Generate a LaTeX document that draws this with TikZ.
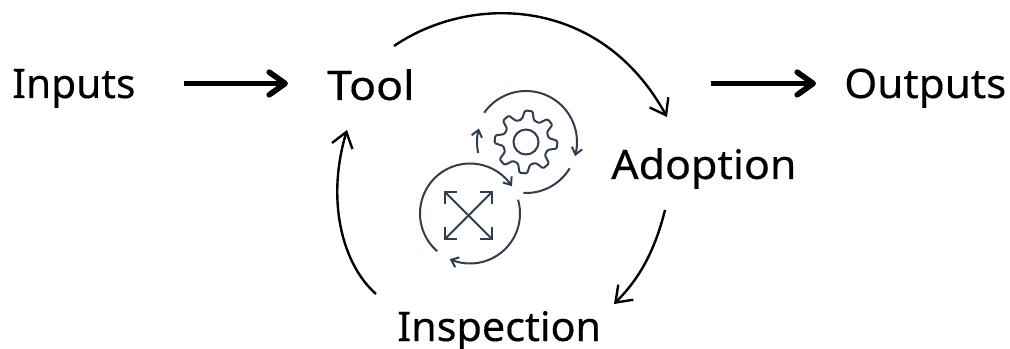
\documentclass[tikz,border=0pt]{standalone}
\usepackage{fontspec}
\setmainfont[FakeBold=0.3]{Noto Sans}
\usetikzlibrary{arrows.meta}
\definecolor{iconc}{HTML}{2F3E4E}
\tikzset{
  lbl/.style={inner sep=0pt,anchor=base west,text height=30pt,text depth=0pt,font=\fontsize{30.5}{36}\selectfont,text=black,transform shape},
  bigarrow/.style={draw=black,line width=4.4pt,-{Straight Barb[length=12pt,width=17pt,line width=4.2pt,round]}},
  cyc/.style={draw=black,line width=1.8pt,-{Straight Barb[length=11pt,width=16pt,line width=1.8pt]}},
  ico/.style={draw=iconc,line width=1.5pt},
  icoa/.style={ico,-{Straight Barb[length=5pt,width=8pt,line width=1.5pt]}}
}
\begin{document}
\begin{tikzpicture}[x=0.75pt,y=-0.75pt]
\useasboundingbox (0,0) rectangle (1010,349);
\node[lbl] (inputs) at (12,98) {Inputs};
\node[lbl,xscale=1.1] (tool) at (327,100) {Tool};
\node[lbl,xscale=1.055] (adoption) at (611,179) {Adoption};
\node[lbl,xscale=1.04] (outputs) at (844,98) {Outputs};
\node[lbl,xscale=1.015] (inspection) at (397,341) {Inspection};
\coordinate (t1) at (394,46);
\coordinate (a1) at (667,117);
\coordinate (a2) at (665,210);
\coordinate (i1) at (614,304);
\coordinate (i2) at (376,294);
\coordinate (t2) at (347,130);
\coordinate (s1) at (184,83.5);
\coordinate (s2) at (288,83.5);
\coordinate (s3) at (711,83.5);
\coordinate (s4) at (816,83.5);
\draw[bigarrow] (s1) -- (s2);
\draw[bigarrow] (s3) -- (s4);
\draw[cyc] (t1) .. controls (470,-6) and (600,-5) .. (a1);
\draw[cyc] (a2) .. controls (655,250) and (640,278) .. (i1);
\draw[cyc] (i2) .. controls (342,264) and (326,200) .. (t2);
% gear
\coordinate (gc) at (526,142);
\coordinate (lc) at (470,213.5);
\draw[ico,line join=round,rounded corners=1pt]
  ({526+23*cos(-100)},{142+23*sin(-100)})
  \foreach \a in {-85,-40,5,50,95,140,185,230}{
    -- ({526+31.5*cos(\a-7)},{142+31.5*sin(\a-7)})
    -- ({526+31.5*cos(\a+7)},{142+31.5*sin(\a+7)})
    -- ({526+23*cos(\a+15)},{142+23*sin(\a+15)})
    -- ({526+23*cos(\a+30)},{142+23*sin(\a+30)})
  } -- cycle;
\draw[ico] (gc) circle[radius=12.5*0.75pt];
\draw[icoa,domain=-145:16,samples=50] plot ({526+51*cos(\x)},{142+51*sin(\x)});
\draw[ico,domain=31:93,samples=25] plot ({526+51*cos(\x)},{142+51*sin(\x)});
\draw[icoa,domain=167:196,samples=12] plot ({526+49*cos(\x)},{142+49*sin(\x)});
\draw[icoa,domain=131:327,samples=60] plot ({470+50*cos(\x)},{213.5+50*sin(\x)});
\draw[icoa,domain=-16:114,samples=40] plot ({470+50*cos(\x)},{213.5+50*sin(\x)});
% expand arrows
\draw[ico] (445,192) -- (492,239);
\draw[ico] (492,192) -- (445,239);
\draw[ico] (445,204) -- (445,192) -- (457,192);
\draw[ico] (480,192) -- (492,192) -- (492,204);
\draw[ico] (445,227) -- (445,239) -- (457,239);
\draw[ico] (480,239) -- (492,239) -- (492,227);
\end{tikzpicture}
\end{document}
